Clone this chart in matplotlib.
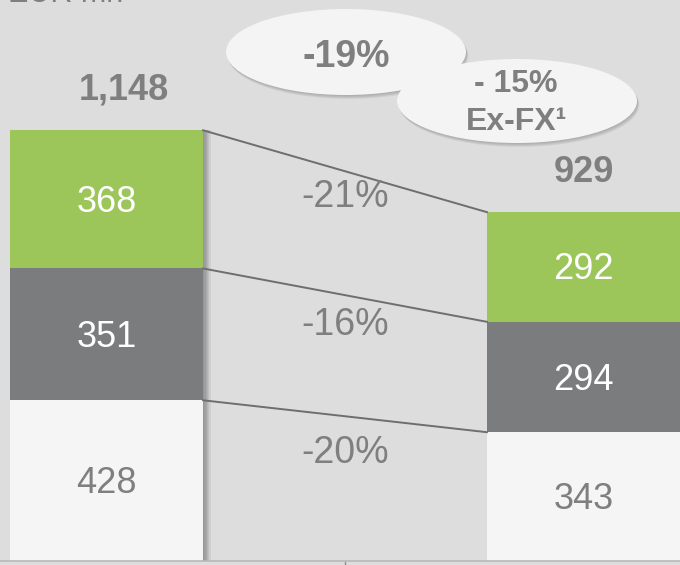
import numpy as np
import matplotlib
matplotlib.use('Agg')
import matplotlib.pyplot as plt
import matplotlib.patheffects as pe
from matplotlib.patches import Ellipse

plt.rcParams['font.family'] = ['Liberation Sans', 'DejaVu Sans']

# data
periods = ['Before', 'After']
bottom_seg = [428, 343]
middle_seg = [351, 294]
top_seg = [368, 292]
total_labels = ['1,148', '929']
change_labels = ['-21%', '-16%', '-20%']
headline = '-19%'
exfx_value = '- 15%'
exfx_label = 'Ex-FX\u00b9'
unit_label = 'EUR mn'

green = '#9cc65a'
dark = '#7b7c7e'
light = '#f5f5f5'
bg = '#dddddd'
txt = '#7f7f7f'

fig = plt.figure(figsize=(6.8, 5.65), dpi=100, facecolor=bg)
ax = fig.add_axes([0, 4 / 565, 1, 561 / 565])
ax.set_facecolor(bg)

x = np.arange(len(periods))
width = 0.405

# soft shadow on the right side of the bars
shadow = [pe.SimplePatchShadow(offset=(k * 0.9, 0), shadow_rgbFace='#555555', alpha=0.11)
          for k in range(1, 7)] + [pe.Normal()]

b1 = np.array(bottom_seg)
b2 = b1 + np.array(middle_seg)
b3 = b2 + np.array(top_seg)

for vals, base, col in [(bottom_seg, np.zeros(2), light),
                        (middle_seg, b1, dark),
                        (top_seg, b2, green)]:
    bars = ax.bar(x, vals, width, bottom=base, color=col, zorder=2)
    for b in bars:
        b.set_path_effects(shadow)

# segment labels
for vals, base, col in [(bottom_seg, np.zeros(2), txt),
                        (middle_seg, b1, 'white'),
                        (top_seg, b2, 'white')]:
    for i in range(2):
        ax.annotate(str(vals[i]), (x[i], base[i] + vals[i] / 2),
                    xytext=(0, -3), textcoords='offset pixels',
                    ha='center', va='center', fontsize=26, color=col, zorder=4)

# totals
total_dx = [17, 0]
for i in range(2):
    ax.annotate(total_labels[i], (x[i], b3[i]), xytext=(total_dx[i], 40),
                textcoords='offset pixels', ha='center', va='center',
                fontsize=26, fontweight='bold', color=txt, zorder=4)

# connector lines and change labels
label_offsets = [-26, -30, -37]
for lvl, tops in enumerate([b3, b2, b1]):
    x0 = x[0] + width / 2
    x1 = x[1] - width / 2
    ax.plot([x0, x1], [tops[0], tops[1]], color='#6e6e6e', lw=1.4, zorder=3)
    ax.annotate(change_labels[lvl], ((x0 + x1) / 2, (tops[0] + tops[1]) / 2),
                xytext=(0, label_offsets[lvl]), textcoords='offset pixels',
                ha='center', va='center', fontsize=27, color=txt, zorder=4)

# bubbles
bubble_fx = [pe.SimplePatchShadow(offset=(k * 0.4, -k * 0.7), shadow_rgbFace='#707070', alpha=0.12)
             for k in range(1, 5)] + [pe.Normal()]
e1 = Ellipse((346 / 680, 509 / 561), 240 / 680, 86 / 561, transform=ax.transAxes,
             facecolor='#f4f4f4', edgecolor='none', zorder=5)
e1.set_path_effects(bubble_fx)
ax.add_patch(e1)
ax.text(0.509, 0.898, headline, transform=ax.transAxes, ha='center', va='center',
        fontsize=27, fontweight='bold', color=txt, zorder=6)

e2 = Ellipse((517 / 680, 460 / 561), 240 / 680, 84 / 561, transform=ax.transAxes,
             facecolor='#f4f4f4', edgecolor='none', zorder=7)
e2.set_path_effects(bubble_fx)
ax.add_patch(e2)
ax.text(0.759, 0.850, exfx_value, transform=ax.transAxes, ha='center', va='center',
        fontsize=23, fontweight='bold', color=txt, zorder=8)
ax.text(0.759, 0.783, exfx_label, transform=ax.transAxes, ha='center', va='center',
        fontsize=23, fontweight='bold', color=txt, zorder=8)

# unit label, cut off at the top edge as in the source slide
fig.text(8 / 680, 1 - 2 / 565, unit_label, ha='left', va='baseline',
         fontsize=22, color=txt)

ax.set_xlim(-0.2233, 1.2023)
ax.set_ylim(0, 1494)
for s in ['top', 'left', 'right']:
    ax.spines[s].set_visible(False)
ax.spines['bottom'].set_color('#b8b8b8')
ax.spines['bottom'].set_linewidth(1.2)
ax.set_xticks([0.5])
ax.set_xticklabels([])
ax.tick_params(axis='x', length=4, color='#909090', width=1)
ax.set_yticks([])

fig.savefig('out.png', dpi=100, facecolor=bg)
